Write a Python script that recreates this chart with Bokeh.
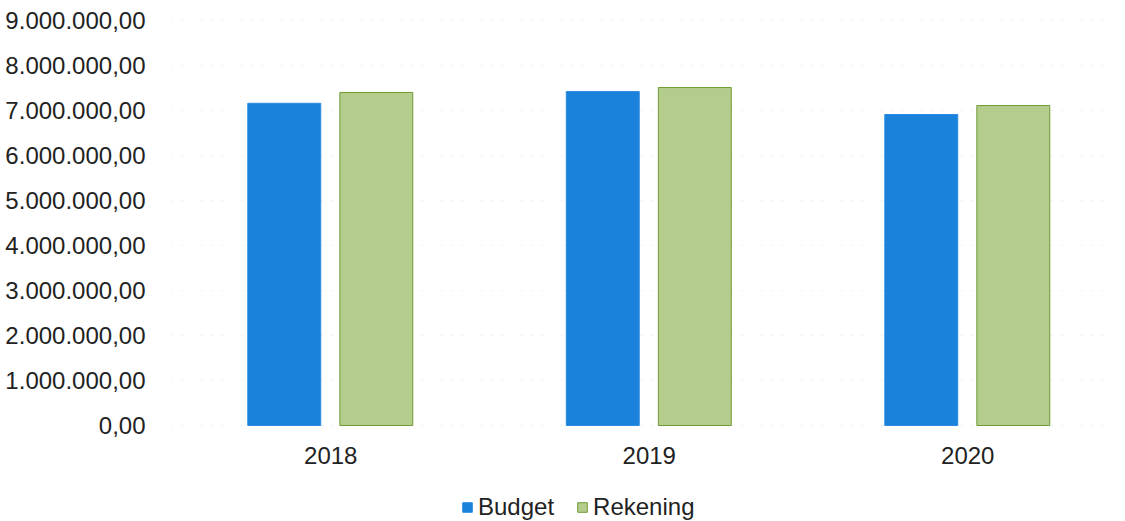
from bokeh.plotting import figure
from bokeh.models import ColumnDataSource, FixedTicker, Legend, LegendItem, Range1d
from bokeh.embed import file_html
from bokeh.resources import INLINE

years = ["2018", "2019", "2020"]
budget = [7160000, 7420000, 6910000]
rekening = [7400000, 7510000, 7110000]
tick_values = [0, 1000000, 2000000, 3000000, 4000000, 5000000, 6000000, 7000000, 8000000, 9000000]
tick_labels = ["0,00", "1.000.000,00", "2.000.000,00", "3.000.000,00", "4.000.000,00",
               "5.000.000,00", "6.000.000,00", "7.000.000,00", "8.000.000,00", "9.000.000,00"]

pos = [i + 0.5 for i in range(len(years))]
src = ColumnDataSource(dict(pos=pos, year=years, budget=budget, rekening=rekening,
                            xb=[v - 0.146 for v in pos], xr=[v + 0.143 for v in pos]))

# frame spans full height; value 0 sits 425px from the top, 9.444M at the top
per_px = 9444000 / 425
p = figure(x_range=Range1d(0, 2.945), y_range=Range1d(-96 * per_px, 9444000),
           frame_width=938, frame_height=521, output_backend="svg", toolbar_location=None,
           min_border_left=171, min_border_right=0, min_border_top=0, min_border_bottom=0)
p.outline_line_color = None
p.background_fill_color = "white"

r1 = p.vbar(x="xb", top="budget", bottom=0, width=0.229, source=src,
            fill_color="#1a82da", line_color="#2a8ae0", line_width=1)
r2 = p.vbar(x="xr", top="rekening", bottom=0, width=0.229, source=src,
            fill_color="#b4cd8c", line_color="#6f9a35", line_width=1)

p.yaxis.ticker = FixedTicker(ticks=tick_values)
p.yaxis.major_label_overrides = {v: l for v, l in zip(tick_values, tick_labels)}
p.yaxis.axis_line_color = None
p.yaxis.major_tick_line_color = None
p.yaxis.minor_tick_line_color = None
p.yaxis.major_label_text_font = "Liberation Sans"
p.yaxis.major_label_text_font_size = "24px"
p.yaxis.major_label_text_color = "#222222"
p.yaxis.major_label_standoff = 20

p.xaxis.fixed_location = 0
p.xaxis.ticker = FixedTicker(ticks=pos)
p.xaxis.major_label_overrides = {v: y for v, y in zip(pos, years)}
p.xaxis.axis_line_color = None
p.xaxis.major_tick_line_color = None
p.xaxis.minor_tick_line_color = None
p.xaxis.major_tick_out = 0
p.xaxis.major_tick_in = 0
p.xaxis.major_label_text_font = "Liberation Sans"
p.xaxis.major_label_text_font_size = "24px"
p.xaxis.major_label_text_color = "#222222"
p.xaxis.major_label_standoff = 21

p.xgrid.grid_line_color = None
p.ygrid.grid_line_color = "#cccccc"
p.ygrid.grid_line_dash = "1 9"
p.ygrid.grid_line_alpha = 0.6

legend = Legend(items=[LegendItem(label="Budget", renderers=[r1]),
                       LegendItem(label="Rekening", renderers=[r2])],
                orientation="horizontal", location=(290, 0))
legend.label_text_font = "Liberation Sans"
legend.label_text_font_size = "24px"
legend.label_text_color = "#222222"
legend.glyph_width = 12
legend.glyph_height = 12
legend.label_standoff = 5
legend.spacing = 22
legend.border_line_color = None
legend.background_fill_alpha = 0
legend.padding = 0
legend.margin = 0
p.add_layout(legend, "center")

open("out.html", "w").write(file_html(p, INLINE))
